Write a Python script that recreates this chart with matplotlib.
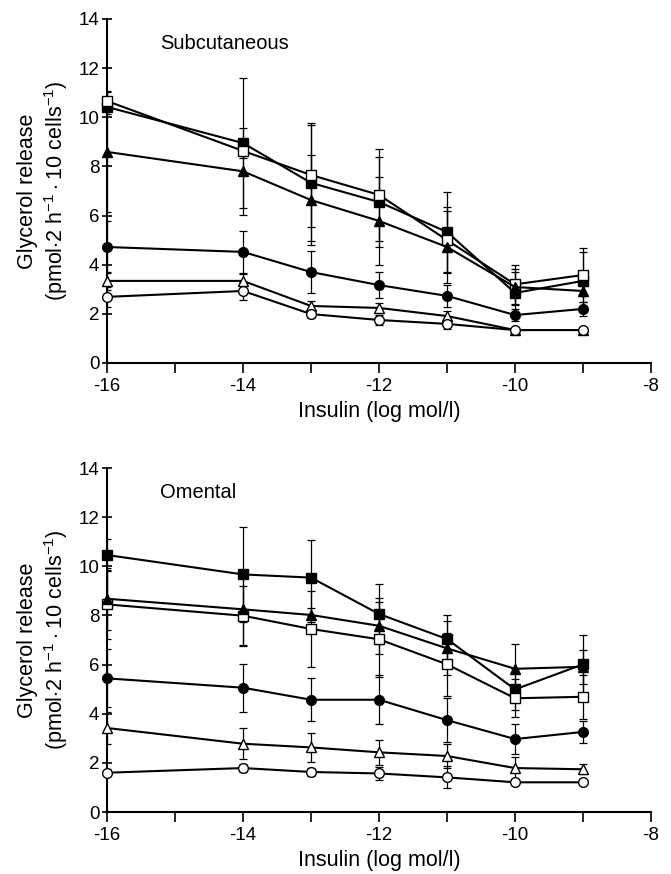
import numpy as np
import matplotlib
matplotlib.use('Agg')
import matplotlib.pyplot as plt

plt.rcParams['font.family'] = ['Liberation Sans', 'DejaVu Sans']
plt.rcParams['mathtext.fontset'] = 'custom'
plt.rcParams['mathtext.rm'] = 'Liberation Sans'

# insulin concentrations (log mol/l)
insulin = [-16, -14, -13, -12, -11, -10, -9]

# subcutaneous: means and error bars
sc_fsq = [10.42, 8.95, 7.33, 6.55, 5.33, 2.85, 3.34]
sc_fsq_err = [0.3, 2.65, 2.35, 1.82, 1.63, 0.84, 1.17]
sc_osq = [10.66, 8.63, 7.65, 6.84, 5.0, 3.2, 3.58]
sc_osq_err = [0.4, 0.3, 2.1, 1.88, 1.35, 0.8, 1.1]
sc_ftri = [8.59, 7.8, 6.63, 5.78, 4.72, 3.09, 2.93]
sc_ftri_err = [2.43, 1.78, 1.82, 1.8, 1.48, 0.74, 0.2]
sc_fcirc = [4.72, 4.52, 3.7, 3.17, 2.73, 1.95, 2.2]
sc_fcirc_err = [1.06, 0.85, 0.85, 0.52, 0.44, 0.25, 0.3]
sc_otri = [3.34, 3.34, 2.32, 2.24, 1.91, 1.34, 1.34]
sc_otri_err = [0.36, 0.3, 0.2, 0.2, 0.2, 0.1, 0.1]
sc_ocirc = [2.69, 2.93, 1.99, 1.75, 1.59, 1.34, 1.34]
sc_ocirc_err = [0.4, 0.37, 0.15, 0.2, 0.2, 0.1, 0.1]

# omental: means and error bars
om_fsq = [10.46, 9.67, 9.54, 8.06, 7.04, 4.99, 6.01]
om_fsq_err = [0.64, 1.94, 1.55, 1.21, 0.98, 0.84, 1.2]
om_osq = [8.45, 7.99, 7.45, 7.03, 6.01, 4.63, 4.69]
om_osq_err = [1.41, 1.2, 1.54, 1.53, 1.28, 0.78, 0.89]
om_ftri = [8.68, 8.25, 8.02, 7.58, 6.66, 5.83, 5.91]
om_ftri_err = [1.27, 1.5, 0.3, 1.15, 1.1, 1.0, 0.68]
om_fcirc = [5.44, 5.06, 4.57, 4.57, 3.74, 2.97, 3.26]
om_fcirc_err = [1.18, 0.97, 0.87, 0.99, 0.9, 0.6, 0.46]
om_otri = [3.42, 2.78, 2.63, 2.43, 2.28, 1.79, 1.74]
om_otri_err = [0.67, 0.62, 0.6, 0.5, 0.5, 0.44, 0.21]
om_ocirc = [1.6, 1.79, 1.63, 1.57, 1.41, 1.21, 1.21]
om_ocirc_err = [0.15, 0.15, 0.15, 0.27, 0.45, 0.1, 0.1]

styles = [('s', 'black'), ('s', 'white'), ('^', 'black'),
          ('o', 'black'), ('^', 'white'), ('o', 'white')]

panels = [
    ('Subcutaneous', [sc_fsq, sc_osq, sc_ftri, sc_fcirc, sc_otri, sc_ocirc],
     [sc_fsq_err, sc_osq_err, sc_ftri_err, sc_fcirc_err, sc_otri_err, sc_ocirc_err]),
    ('Omental', [om_fsq, om_osq, om_ftri, om_fcirc, om_otri, om_ocirc],
     [om_fsq_err, om_osq_err, om_ftri_err, om_fcirc_err, om_otri_err, om_ocirc_err]),
]

fig = plt.figure(figsize=(6.71, 8.74), dpi=100)
rects = [[0.1595, 0.5847, 0.8107, 0.3936], [0.1595, 0.0709, 0.8107, 0.3936]]

for rect, (title, means, errs) in zip(rects, panels):
    ax = fig.add_axes(rect)
    for (m, fc), y, e in zip(styles, means, errs):
        ax.errorbar(insulin, y, yerr=e, fmt='none', ecolor='black',
                    elinewidth=0.9, capsize=3, capthick=0.9, zorder=2)
        ax.plot(insulin, y, color='black', lw=1.5, marker=m, markersize=7,
                markerfacecolor=fc, markeredgecolor='black', markeredgewidth=1.0,
                zorder=3, clip_on=False)
    ax.set_xlim(-16, -8)
    ax.set_ylim(0, 14)
    ax.set_xticks(range(-16, -7))
    ax.set_xticklabels([str(v) if v % 2 == 0 else '' for v in range(-16, -7)])
    ax.set_yticks(range(0, 15, 2))
    ax.spines['top'].set_visible(False)
    ax.spines['right'].set_visible(False)
    ax.spines['left'].set_linewidth(1.5)
    ax.spines['bottom'].set_linewidth(1.5)
    ax.tick_params(axis='x', direction='out', length=7, width=1.2, labelsize=13.5, pad=4)
    ax.tick_params(axis='y', direction='inout', length=7, width=1.2, labelsize=13.5, pad=2)
    ax.text(0.097, 0.93, title, transform=ax.transAxes, fontsize=14.5, va='center')
    ax.set_xlabel('Insulin (log mol/l)', fontsize=15.5, labelpad=4)
    ax.set_ylabel('Glycerol release\n' + r'(pmol$\cdot$2 h$^{-1}\cdot$10 cells$^{-1}$)',
                  fontsize=15.5, labelpad=6, linespacing=1.2)

fig.savefig('out.png', dpi=100)
